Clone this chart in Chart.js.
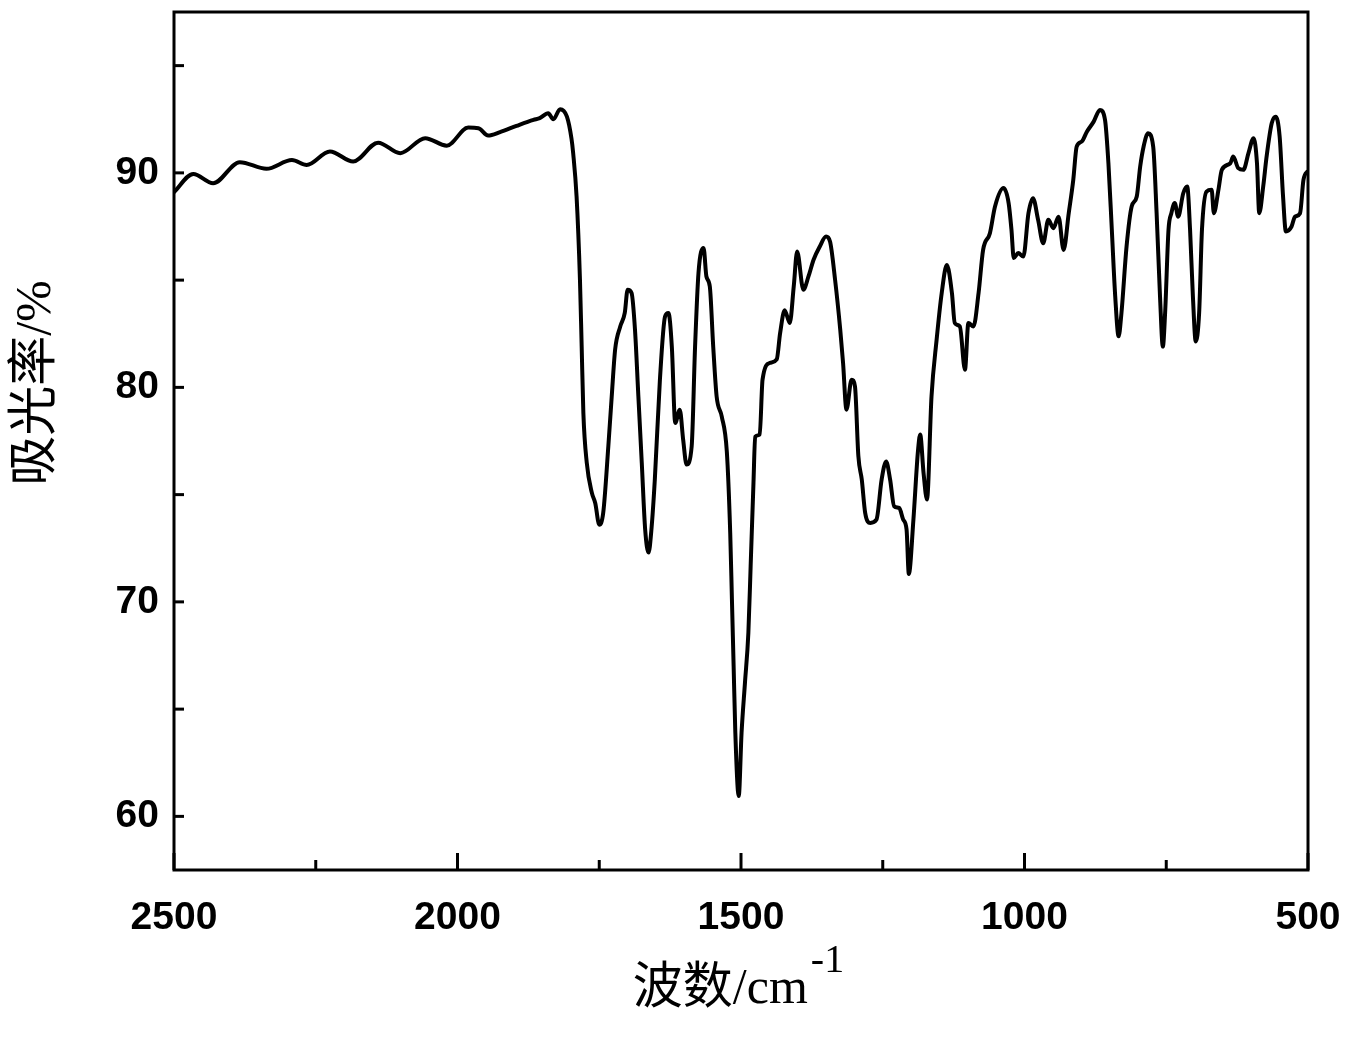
<!DOCTYPE html>
<html>
<head>
<meta charset="utf-8">
<script src="https://cdn.jsdelivr.net/npm/chart.js@4.4.0/dist/chart.umd.min.js"></script>
<style>
  html, body { margin: 0; padding: 0; background: #fff; }
  #wrap { width: 1362px; height: 1059px; }
</style>
</head>
<body>
<div id="wrap"><canvas id="irChart" width="1362" height="1059"></canvas></div>
<script>
// 波数 (cm-1) と 吸光率 (%) — 図から読み取った値
const waveNumber = [
  2500, 2466, 2431, 2384, 2337, 2292, 2266, 2225, 2184, 2140, 2101, 2057, 2019, 1981, 1963, 1946,
  1925, 1896, 1866, 1855, 1840, 1831, 1819, 1807, 1799, 1796, 1790, 1784, 1781, 1778, 1772, 1763,
  1757, 1750, 1743, 1734, 1728, 1722, 1713, 1705, 1700, 1693, 1687, 1681, 1675, 1669, 1663, 1658,
  1652, 1643, 1634, 1628, 1622, 1616, 1608, 1602, 1596, 1587, 1581, 1575, 1566, 1561, 1555, 1549,
  1543, 1534, 1525, 1519, 1516, 1513, 1510, 1504, 1499, 1493, 1487, 1483, 1478, 1475, 1467, 1462,
  1449, 1437, 1431, 1423, 1414, 1407, 1401, 1390, 1381, 1372, 1361, 1350, 1343, 1334, 1325, 1320,
  1314, 1305, 1299, 1293, 1287, 1281, 1272, 1261, 1252, 1244, 1237, 1230, 1221, 1214, 1208, 1204,
  1196, 1188, 1184, 1178, 1172, 1164, 1155, 1146, 1137, 1128, 1123, 1114, 1105, 1099, 1090, 1081,
  1073, 1061, 1052, 1037, 1028, 1023, 1019, 1011, 1002, 993, 985, 976, 967, 958, 949, 940,
  931, 922, 914, 908, 899, 890, 878, 867, 858, 852, 846, 840, 834, 829, 820, 811,
  802, 796, 790, 782, 773, 767, 761, 756, 752, 746, 741, 735, 729, 720, 713, 708,
  703, 698, 692, 687, 679, 670, 666, 658, 652, 637, 632, 623, 614, 605, 596, 590,
  586, 579, 573, 564, 557, 550, 544, 539, 529, 523, 514, 508, 500
];
const absorbance = [
  89.1, 89.95, 89.52, 90.5, 90.19, 90.6, 90.37, 91.0, 90.53, 91.41, 90.92, 91.62, 91.27, 92.11, 92.08, 91.74,
  91.9, 92.19, 92.47, 92.55, 92.78, 92.5, 92.97, 92.62, 91.6, 90.92, 88.9, 85.0, 81.9, 78.8, 76.48, 75.08,
  74.6, 73.6, 74.15, 77.25, 79.58, 81.76, 82.84, 83.47, 84.55, 84.4, 82.7, 79.58, 76.48, 73.37, 72.3, 73.37,
  75.7, 80.36, 83.3, 83.47, 81.9, 78.34, 78.96, 77.56, 76.4, 77.25, 81.9, 85.33, 86.5, 85.17, 84.7, 81.9,
  79.58, 78.65, 77.0, 73.2, 70.11, 67.0, 63.9, 60.95, 63.9, 66.23, 68.56, 71.66, 75.55, 77.7, 77.8, 80.36,
  81.14, 81.3, 82.53, 83.6, 83.0, 84.7, 86.33, 84.55, 85.17, 85.95, 86.57, 87.03, 86.8, 85.0, 82.7, 81.14,
  78.96, 80.36, 80.05, 76.79, 75.7, 74.15, 73.68, 73.84, 75.7, 76.55, 75.7, 74.46, 74.38, 73.84, 73.37, 71.3,
  73.8, 77.0, 77.8, 76.0, 74.77, 79.58, 82.22, 84.4, 85.7, 84.4, 83.0, 82.84, 80.82, 83.0, 82.84, 84.4,
  86.41, 87.19, 88.43, 89.29, 88.59, 87.35, 86.03, 86.26, 86.1, 88.12, 88.82, 87.81, 86.72, 87.81, 87.42, 87.96,
  86.41, 88.12, 89.67, 91.22, 91.46, 91.92, 92.39, 92.93, 92.47, 90.45, 87.35, 84.24, 82.38, 83.47, 86.57, 88.43,
  88.9, 90.29, 91.22, 91.85, 91.22, 88.12, 84.24, 81.9, 83.47, 87.35, 88.12, 88.59, 87.96, 89.05, 89.36, 87.35,
  84.24, 82.14, 83.47, 87.35, 89.13, 89.21, 88.12, 89.21, 90.14, 90.45, 90.76, 90.22, 90.14, 90.92, 91.62, 90.45,
  88.12, 89.36, 90.76, 92.31, 92.62, 91.69, 88.9, 87.27, 87.5, 87.96, 88.12, 89.67, 90.1
];

// 軸の目盛り
const xTickValues = [2500, 2250, 2000, 1750, 1500, 1250, 1000, 750, 500];
const xTickLabels = ['2500', '', '2000', '', '1500', '', '1000', '', '500'];
const yTickValues = [60, 65, 70, 75, 80, 85, 90, 95];
const yTickLabels = ['60', '', '70', '', '80', '', '90', ''];

const tickFont = { family: '"Liberation Sans", Arial, sans-serif', size: 39, weight: 'bold' };

// 枠線・内向き目盛り・軸タイトル
const framePlugin = {
    id: 'framePlugin',
    afterDraw(chart) {
        const { ctx, chartArea } = chart;
        const xs = chart.scales.x;
        const ys = chart.scales.y;
        ctx.save();
        ctx.strokeStyle = '#000';
        ctx.lineWidth = 3;
        ctx.strokeRect(chartArea.left, chartArea.top,
            chartArea.right - chartArea.left, chartArea.bottom - chartArea.top);

        xTickValues.forEach(v => {
            const px = xs.getPixelForValue(v);
            const len = v % 500 === 0 ? 17 : 10;
            ctx.beginPath();
            ctx.moveTo(px, chartArea.bottom);
            ctx.lineTo(px, chartArea.bottom - len);
            ctx.stroke();
        });
        yTickValues.forEach(v => {
            const py = ys.getPixelForValue(v);
            ctx.beginPath();
            ctx.moveTo(chartArea.left, py);
            ctx.lineTo(chartArea.left + 10, py);
            ctx.stroke();
        });

        // x軸タイトル
        ctx.fillStyle = '#000';
        ctx.textBaseline = 'alphabetic';
        const mainFont = '50px "Liberation Serif", "Noto Sans CJK SC", serif';
        const supFont = '40px "Liberation Serif", serif';
        ctx.font = mainFont;
        const mainText = '波数/cm';
        const w1 = ctx.measureText(mainText).width;
        ctx.font = supFont;
        const w2 = ctx.measureText('-1').width;
        const startX = (chartArea.left + chartArea.right) / 2 - 4 - (w1 + w2) / 2;
        ctx.font = mainFont;
        ctx.textAlign = 'left';
        ctx.fillText(mainText, startX, 1003);
        ctx.font = supFont;
        ctx.fillText('-1', startX + w1 + 3, 972);

        // y軸タイトル
        ctx.translate(37, (chartArea.top + chartArea.bottom) / 2 - 58);
        ctx.rotate(-Math.PI / 2);
        ctx.font = '50px "Liberation Serif", "Noto Sans CJK SC", serif';
        ctx.textAlign = 'center';
        ctx.textBaseline = 'middle';
        ctx.fillText('吸光率/%', 0, 0);
        ctx.restore();
    }
};

const ctx = document.getElementById('irChart').getContext('2d');
new Chart(ctx, {
    type: 'line',
    data: {
        datasets: [{
            data: waveNumber.map((w, i) => ({ x: w, y: absorbance[i] })),
            borderColor: '#000',
            borderWidth: 4,
            pointRadius: 0,
            cubicInterpolationMode: 'monotone',
            fill: false
        }]
    },
    options: {
        responsive: false,
        animation: false,
        layout: { padding: { left: 0, top: 12, right: 54, bottom: 0 } },
        plugins: {
            legend: { display: false },
            tooltip: { enabled: false }
        },
        scales: {
            x: {
                type: 'linear',
                reverse: true,
                min: 500,
                max: 2500,
                grid: { display: false, drawTicks: false },
                border: { display: false },
                afterBuildTicks: scale => {
                    scale.ticks = xTickValues.map(v => ({ value: v }));
                },
                afterFit: scale => {
                    scale.height = 189;
                    scale.paddingLeft = 0;
                    scale.paddingRight = 0;
                },
                ticks: {
                    autoSkip: false,
                    maxRotation: 0,
                    padding: 25,
                    color: '#000',
                    font: tickFont,
                    callback: (v) => xTickLabels[xTickValues.indexOf(v)] || ''
                }
            },
            y: {
                min: 57.5,
                max: 97.5,
                grid: { display: false, drawTicks: false },
                border: { display: false },
                afterBuildTicks: scale => {
                    scale.ticks = yTickValues.map(v => ({ value: v }));
                },
                afterFit: scale => {
                    scale.width = 174;
                    scale.paddingTop = 0;
                    scale.paddingBottom = 0;
                },
                ticks: {
                    autoSkip: false,
                    padding: 15,
                    color: '#000',
                    font: tickFont,
                    callback: (v) => yTickLabels[yTickValues.indexOf(v)] || ''
                }
            }
        }
    },
    plugins: [framePlugin]
});
</script>
</body>
</html>
